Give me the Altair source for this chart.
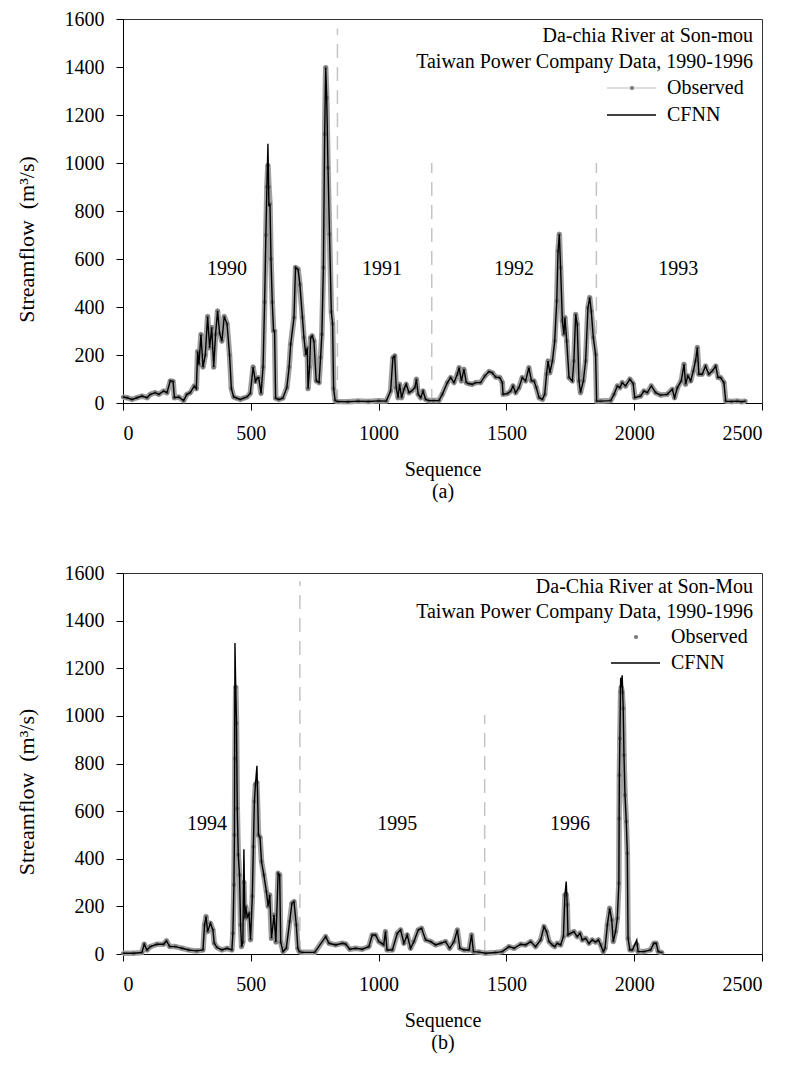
import altair as alt
import pandas as pd

FONT = "Liberation Serif"
X_TICKS = [0, 500, 1000, 1500, 2000, 2500]
Y_TICKS = [0, 200, 400, 600, 800, 1000, 1200, 1400, 1600]
Y_TITLE = "Streamflow\u00a0\u00a0(m³/s)"

# ---------------- Panel (a): 1990-1993 ----------------
A_SEQ = [0, 16, 35, 55, 74, 94, 107, 126, 140, 159, 172, 185, 196, 201, 218, 237, 250, 263, 279, 287,
         292, 297, 305, 313, 322, 331, 339, 347, 355, 362, 370, 378, 387, 396, 407, 417, 424, 433, 445, 459,
         472, 485, 498, 509, 518, 526, 531, 540, 548, 554, 559, 563, 567, 571, 575, 579, 584, 589, 593, 597,
         610, 625, 641, 650, 656, 669, 675, 685, 692, 702, 708, 715, 721, 724, 730, 734, 740, 747, 756, 767,
         773, 778, 784, 789, 793, 797, 802, 808, 815, 820, 824, 830, 839, 880, 920, 960, 1000, 1030, 1047, 1056,
         1063, 1069, 1076, 1082, 1090, 1099, 1108, 1119, 1129, 1142, 1148, 1155, 1165, 1174, 1184, 1197, 1215, 1236, 1249, 1269,
         1282, 1295, 1308, 1315, 1324, 1334, 1343, 1354, 1367, 1380, 1399, 1416, 1432, 1445, 1458, 1474, 1484, 1487, 1504, 1517,
         1526, 1536, 1549, 1562, 1575, 1588, 1598, 1608, 1617, 1628, 1641, 1650, 1657, 1663, 1670, 1680, 1689, 1697, 1702, 1707,
         1712, 1719, 1725, 1729, 1736, 1745, 1758, 1764, 1771, 1777, 1784, 1790, 1801, 1810, 1819, 1826, 1832, 1840, 1849, 1853,
         1869, 1908, 1921, 1934, 1944, 1953, 1966, 1983, 1996, 2002, 2025, 2038, 2051, 2067, 2084, 2103, 2129, 2149, 2158, 2169,
         2184, 2195, 2201, 2210, 2221, 2231, 2240, 2247, 2253, 2266, 2279, 2292, 2305, 2319, 2328, 2338, 2351, 2358, 2380, 2403,
         2420, 2436]
A_OBS = [25, 22, 15, 22, 29, 22, 36, 43, 36, 50, 43, 92, 90, 22, 25, 10, 36, 43, 71, 60,
         215, 160, 285, 150, 200, 360, 230, 315, 150, 285, 383, 290, 258, 360, 330, 200, 60, 25, 20, 15,
         20, 25, 40, 150, 90, 105, 105, 40, 150, 420, 700, 900, 990, 900, 830, 600, 420, 300, 300, 20,
         15, 20, 64, 150, 245, 356, 565, 557, 494, 356, 272, 200, 230, 60, 150, 272, 280, 258, 92, 85,
         190, 286, 564, 1120, 1397, 1272, 980, 703, 380, 330, 60, 10, 6, 5, 8, 6, 9, 8, 50, 189,
         196, 64, 22, 78, 22, 57, 78, 43, 50, 64, 99, 36, 22, 50, 15, 10, 10, 10, 36, 85,
         106, 85, 120, 147, 92, 140, 85, 80, 78, 85, 85, 113, 131, 126, 108, 106, 85, 36, 39, 50,
         71, 43, 64, 106, 92, 147, 92, 92, 64, 22, 15, 36, 120, 175, 126, 175, 258, 425, 633, 703,
         564, 342, 286, 356, 258, 106, 92, 175, 369, 328, 92, 43, 92, 175, 397, 439, 383, 272, 203, 8,
         8, 10, 36, 71, 64, 85, 71, 99, 81, 22, 29, 50, 43, 71, 43, 33, 36, 57, 22, 64,
         92, 161, 78, 113, 92, 133, 175, 231, 120, 120, 154, 120, 133, 154, 106, 106, 85, 8, 6, 8,
         5, 8]
A_CFNN_PEAK_SEQ = [567, 571]
A_CFNN_PEAK_VAL = [1080, 820]
A_DIV_SEQ = [839, 1208, 1852]
A_DIV_TOP = [1560, 1000, 1000]
A_YEARS = ["1990", "1991", "1992", "1993"]
A_YEAR_SEQ = [407, 1013, 1530, 2172]
A_YEAR_VAL = [558, 558, 558, 558]

# ---------------- Panel (b): 1994-1996 ----------------
B_SEQ = [0, 42, 74, 83, 94, 107, 133, 159, 170, 183, 205, 231, 257, 289, 313, 319, 325, 331, 342, 352,
         357, 368, 387, 407, 426, 430, 434, 436, 438, 441, 444, 447, 451, 456, 460, 464, 469, 473, 477, 480,
         486, 493, 499, 506, 510, 514, 518, 524, 530, 536, 542, 551, 561, 568, 574, 581, 591, 598, 607, 613,
         617, 626, 639, 652, 661, 669, 678, 684, 690, 700, 750, 793, 806, 832, 858, 871, 887, 910, 936, 962,
         975, 988, 1001, 1012, 1020, 1027, 1033, 1054, 1073, 1086, 1099, 1112, 1125, 1138, 1155, 1168, 1184, 1204, 1223, 1243,
         1262, 1278, 1295, 1308, 1318, 1334, 1354, 1364, 1371, 1393, 1419, 1458, 1484, 1510, 1530, 1556, 1575, 1595, 1614, 1634,
         1647, 1657, 1667, 1680, 1689, 1699, 1712, 1723, 1729, 1734, 1738, 1741, 1751, 1764, 1777, 1788, 1797, 1810, 1823, 1836,
         1849, 1860, 1869, 1879, 1886, 1895, 1904, 1912, 1918, 1927, 1934, 1940, 1941, 1942, 1944, 1947, 1949, 1953, 1957, 1960,
         1964, 1969, 1973, 1976, 1983, 1993, 2010, 2015, 2038, 2064, 2077, 2086, 2094, 2110]
B_OBS = [3, 3, 6, 41, 17, 31, 41, 41, 55, 31, 31, 24, 17, 13, 17, 122, 157, 94, 129, 101,
         45, 27, 17, 24, 17, 87, 290, 500, 820, 1120, 970, 611, 416, 332, 122, 31, 50, 300, 150, 200,
         155, 170, 60, 243, 450, 640, 711, 720, 500, 490, 388, 332, 262, 200, 248, 66, 164, 50, 339, 332,
         50, 10, 24, 136, 213, 220, 122, 24, 10, 7, 7, 73, 45, 38, 45, 42, 20, 24, 20, 31,
         80, 80, 52, 45, 38, 94, 17, 17, 87, 101, 45, 80, 24, 52, 101, 108, 59, 52, 38, 45,
         52, 24, 52, 101, 24, 17, 17, 80, 10, 8, 3, 6, 10, 31, 24, 41, 38, 52, 31, 59,
         115, 94, 52, 38, 31, 45, 38, 73, 248, 250, 206, 80, 87, 94, 73, 87, 59, 66, 45, 59,
         50, 59, 38, 10, 24, 122, 192, 143, 52, 94, 150, 297, 569, 751, 905, 1100, 1120, 1100, 1031, 835,
         667, 556, 423, 66, 17, 17, 40, 10, 10, 17, 45, 45, 10, 6]
B_CFNN_PEAK_SEQ = [438, 473, 524, 1734, 1947, 1953, 2010]
B_CFNN_PEAK_VAL = [1306, 440, 790, 304, 1160, 1170, 59]
B_DIV_SEQ = [692, 1415]
B_DIV_TOP = [1565, 1004]
B_YEARS = ["1994", "1995", "1996"]
B_YEAR_SEQ = [329, 1073, 1749]
B_YEAR_VAL = [548, 548, 548]

X_SCALE = alt.Scale(domain=[0, 2500], nice=False, zero=False)
Y_SCALE = alt.Scale(domain=[0, 1600], nice=False)


def make_panel(seq, obs, peak_seq, peak_val, div_seq, div_top, years, year_seq, year_val,
               head1, head2, sub, height, obs_legend_line, txt_y, leg_x):
    over = dict(zip(peak_seq, peak_val))
    df = pd.DataFrame({"seq": seq, "obs": obs,
                       "cfnn": [over.get(s, v) for s, v in zip(seq, obs)]})
    x_axis = alt.Axis(values=X_TICKS, title=["Sequence", sub], format="d",
                      labelFont=FONT, titleFont=FONT)
    y_axis = alt.Axis(values=Y_TICKS, title=Y_TITLE, format="d",
                      labelFont=FONT, titleFont=FONT, titleFontSize=22,
                      titleY=height / 2 + 28)

    def X(f):
        return alt.X(f, scale=X_SCALE, axis=x_axis)

    def Y(f):
        return alt.Y(f, scale=Y_SCALE, axis=y_axis)

    base = alt.Chart(df)
    halo = base.mark_line(color="#a0a0a0", strokeWidth=5.5, strokeJoin="round").encode(x=X("seq:Q"), y=Y("obs:Q"))
    dots = base.mark_circle(color="#777777", size=18, opacity=1).encode(x=X("seq:Q"), y=Y("obs:Q"))
    cfnn = base.mark_line(color="black", strokeWidth=1.4).encode(x=X("seq:Q"), y=Y("cfnn:Q"))

    ddf = pd.DataFrame({"seq": div_seq, "top": div_top})
    ddf["bottom"] = 0
    divs = alt.Chart(ddf).mark_rule(color="#c4c4c4", strokeWidth=1.5, strokeDash=[14, 9]).encode(
        x=X("seq:Q"), y=Y("bottom:Q"), y2="top:Q")

    ydf = pd.DataFrame({"seq": year_seq, "val": year_val, "label": years})
    ylab = alt.Chart(ydf).mark_text(fontSize=20, font=FONT, color="black").encode(
        x=X("seq:Q"), y=Y("val:Q"), text="label:N")

    layers = [divs, halo, dots, cfnn, ylab]

    for txt, yy in [(head1, txt_y[0]), (head2, txt_y[1])]:
        layers.append(alt.Chart(pd.DataFrame({"t": [txt]})).mark_text(
            align="right", baseline="middle", fontSize=20, font=FONT, color="black").encode(
            x=alt.value(630), y=alt.value(yy), text="t:N"))
    for txt, yy in [("Observed", txt_y[2]), ("CFNN", txt_y[3])]:
        layers.append(alt.Chart(pd.DataFrame({"t": [txt]})).mark_text(
            align="left", baseline="middle", fontSize=20, font=FONT, color="black").encode(
            x=alt.value(leg_x + 60), y=alt.value(yy), text="t:N"))
    one = pd.DataFrame({"k": [0]})
    if obs_legend_line:
        layers.append(alt.Chart(one).mark_rule(color="#bdbdbd", strokeWidth=1.2).encode(
            x=alt.value(leg_x), x2=alt.value(leg_x + 49), y=alt.value(txt_y[2])))
    layers.append(alt.Chart(one).mark_circle(color="#777777", size=18, opacity=1).encode(
        x=alt.value(leg_x + 25), y=alt.value(txt_y[2])))
    layers.append(alt.Chart(one).mark_rule(color="black", strokeWidth=1.4).encode(
        x=alt.value(leg_x), x2=alt.value(leg_x + 49), y=alt.value(txt_y[3])))

    return alt.layer(*layers).properties(width=639, height=height)


panel_a = make_panel(A_SEQ, A_OBS, A_CFNN_PEAK_SEQ, A_CFNN_PEAK_VAL, A_DIV_SEQ, A_DIV_TOP,
                     A_YEARS, A_YEAR_SEQ, A_YEAR_VAL,
                     "Da-chia River at Son-mou", "Taiwan Power Company Data, 1990-1996", "(a)",
                     384, True, [17, 43, 69, 96], 484)
panel_b = make_panel(B_SEQ, B_OBS, B_CFNN_PEAK_SEQ, B_CFNN_PEAK_VAL, B_DIV_SEQ, B_DIV_TOP,
                     B_YEARS, B_YEAR_SEQ, B_YEAR_VAL,
                     "Da-Chia River at Son-Mou", "Taiwan Power Company Data, 1990-1996", "(b)",
                     381, False, [14, 39, 64, 90], 488)

chart = alt.vconcat(panel_a, panel_b, spacing=60).properties(
    padding={"left": 6, "top": 0, "right": 5, "bottom": 5}
).configure(font=FONT).configure_view(
    stroke="#333333", strokeWidth=1
).configure_axis(
    grid=False, domainColor="black", domainWidth=1, tickColor="black", tickSize=7,
    labelFont=FONT, labelFontSize=20, labelColor="black",
    titleFont=FONT, titleFontSize=20, titleFontWeight="normal", titleColor="black"
).configure_axisX(
    labelPadding=13, titlePadding=16, titleLineHeight=22
).configure_axisY(
    labelPadding=12, titlePadding=26
)

chart.save("out.html", embed_options={"renderer": "svg", "actions": False})
